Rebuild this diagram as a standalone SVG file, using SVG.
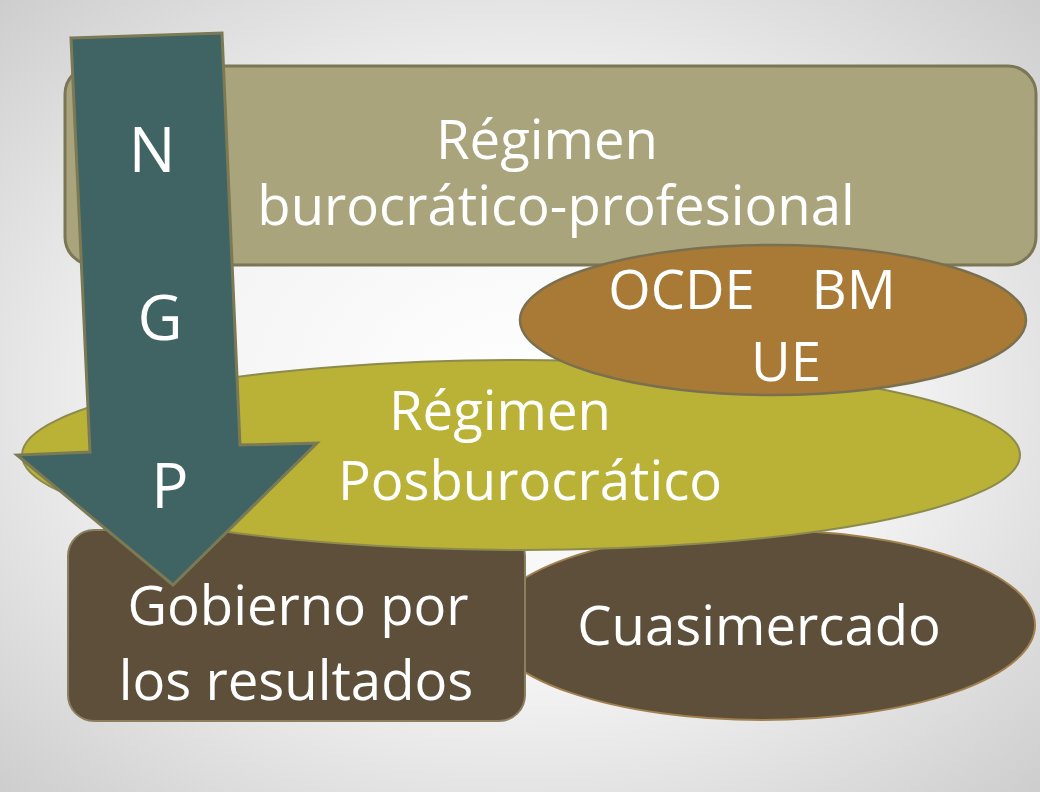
<svg xmlns="http://www.w3.org/2000/svg" width="1040" height="792" viewBox="0 0 1040 792">
<defs>
<radialGradient id="bg" cx="50%" cy="50%" r="72%">
<stop offset="0" stop-color="#ffffff"/>
<stop offset="0.5" stop-color="#f3f3f3"/>
<stop offset="1" stop-color="#cccccc"/>
</radialGradient>
</defs>
<style>
.t{font-family:"Open Sans","Liberation Sans",sans-serif;fill:#ffffff;text-anchor:middle;font-size:54.5px}
.big{font-size:62px}
</style>
<rect x="0" y="0" width="1040" height="792" fill="url(#bg)"/>
<g id="burocratico">
<rect x="65" y="66" width="971" height="199" rx="28" fill="#a9a47c" stroke="#7b7655" stroke-width="3"/>
<text class="t" x="547" y="159">Régimen</text>
<text class="t" x="556" y="225">burocrático-profesional</text>
</g>
<g id="cuasimercado">
<ellipse cx="762" cy="625" rx="273" ry="95" fill="#5e4f3a" stroke="#a0804e" stroke-width="2"/>
<text class="t" x="759" y="645">Cuasimercado</text>
</g>
<g id="gobierno">
<rect x="68" y="530" width="457" height="191" rx="26" fill="#5e4f3a" stroke="#8a8060" stroke-width="2"/>
<text class="t" x="298" y="625">Gobierno por</text>
<text class="t" x="296" y="700">los resultados</text>
</g>
<g id="posburocratico">
<ellipse cx="521" cy="455" rx="499" ry="95" fill="#bab236" stroke="#8c8a4c" stroke-width="2"/>
<text class="t" x="500" y="430">Régimen</text>
<text class="t" x="530" y="500">Posburocrático</text>
</g>
<g id="organismos">
<ellipse cx="773" cy="320" rx="253" ry="75" fill="#a87a36" stroke="#7a7050" stroke-width="2.5"/>
<text class="t" x="752" y="309" xml:space="preserve">OCDE    BM</text>
<text class="t" x="786" y="381">UE</text>
</g>
<g id="ngp">
<polygon points="71,38 222,33 240,445 317,443 173,585 17,455 90,452" fill="#3f6463" stroke="#7b7a55" stroke-width="3" stroke-linejoin="miter"/>
<text class="t big" x="152" y="172">N</text>
<text class="t big" x="160" y="340">G</text>
<text class="t big" x="170" y="508">P</text>
</g>
<g id="connectors"/>
</svg>
